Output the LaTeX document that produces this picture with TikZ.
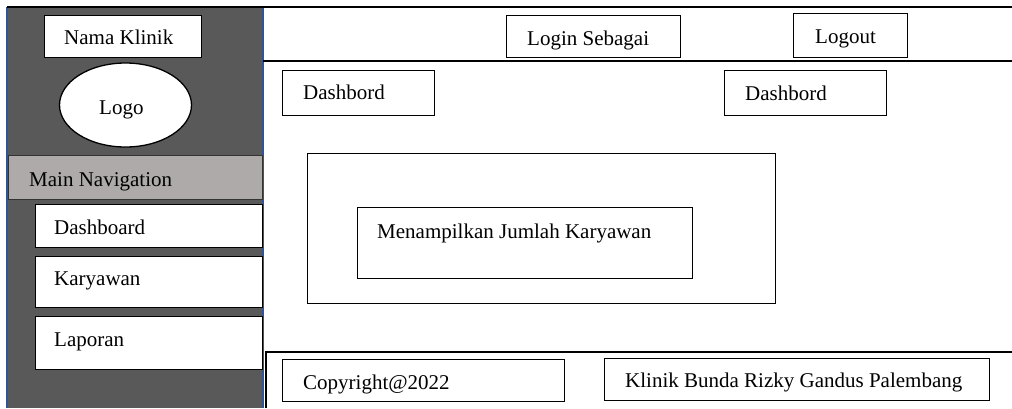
\documentclass[tikz,border=0pt]{standalone}
\usepackage{fontspec}
\setmainfont{Liberation Serif}
\definecolor{sidegray}{RGB}{89,89,89}
\definecolor{navgray}{RGB}{174,170,170}
\definecolor{sideblue}{RGB}{47,85,151}
\tikzset{
  txt/.style={anchor=base west, inner sep=0pt, font=\fontsize{21}{25}\selectfont},
  box/.style={draw=black, line width=0.9pt, fill=white},
  heavy/.style={line width=2.6pt}
}

\begin{document}
\begin{tikzpicture}[x=1pt, y=-1pt]
			%%%%% START %%%%%
			\useasboundingbox[fill=white] (0, 0) rectangle (1012, 408);
			
			% sidebar
			\fill[sidegray] (7, 7) rectangle (263, 408);
			\draw[sideblue, line width=1.2pt] (7, 408) -- (7, 7);
			\draw[sideblue, line width=1.2pt] (263, 7) -- (263, 408);
			\draw[box] (44, 15) rectangle (201, 57);
			\node[txt] (namaklinik) at (64, 44) {Nama Klinik};
			\draw[fill=white, line width=1.3pt] (125.5, 105) ellipse (66 and 42);
			\node[txt] (logo) at (99, 114) {Logo};
			\draw[fill=navgray, draw=black!80, line width=0.9pt] (8, 155) rectangle (262, 199);
			\node[txt] (mainnav) at (29, 186) {Main Navigation};
			\draw[box] (35, 204) rectangle (262, 247);
			\node[txt] (menudash) at (54, 234) {Dashboard};
			\draw[box] (35, 256) rectangle (262, 307);
			\node[txt] (menukary) at (54, 285) {Karyawan};
			\draw[box] (35, 316) rectangle (262, 369);
			\node[txt] (menulap) at (54, 346) {Laporan};
			
			% header
			\draw[heavy] (7, 7) -- (1012, 7);
			\draw[heavy] (263, 61) -- (1012, 61);
			\draw[box] (506, 15) rectangle (680, 57);
			\node[txt] (login) at (527, 45) {Login Sebagai};
			\draw[box] (793, 13) rectangle (907, 57);
			\node[txt] (logout) at (815, 43) {Logout};
			
			% content
			\draw[box] (282, 70) rectangle (434, 115);
			\node[txt] (dashkiri) at (303, 99) {Dashbord};
			\draw[box] (724, 70) rectangle (886, 115);
			\node[txt] (dashkanan) at (745, 100) {Dashbord};
			\draw[box] (307, 153) rectangle (775, 303);
			\draw[box] (357, 207) rectangle (692, 278);
			\node[txt] (jumlah) at (377, 238) {Menampilkan Jumlah Karyawan};
			
			% footer
			\draw[heavy] (266, 408) -- (266, 352) -- (1012, 352);
			\draw[box] (282, 359) rectangle (564, 401);
			\node[txt] (copyright) at (303, 389) {Copyright@2022};
			\draw[box] (604, 358) rectangle (989, 400);
			\node[txt] (klinik) at (625, 387) {Klinik Bunda Rizky Gandus Palembang};
			%%%%% END %%%%%
\end{tikzpicture}
\end{document}
